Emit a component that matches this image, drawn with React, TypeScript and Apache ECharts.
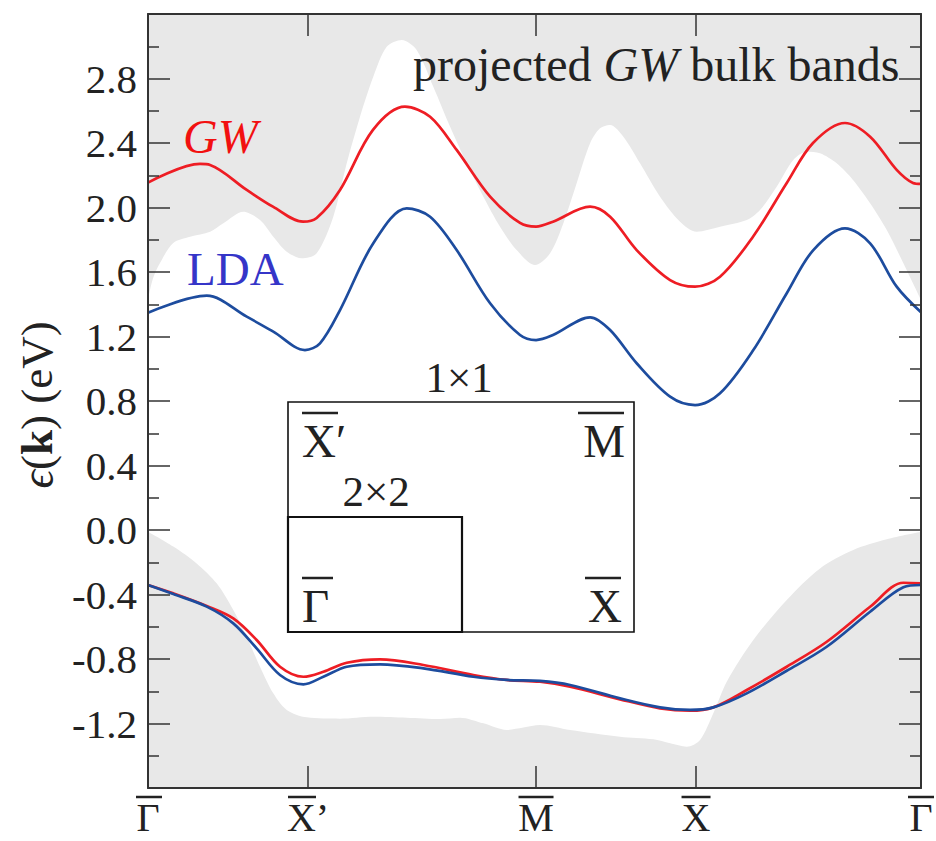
import React, { useEffect, useRef } from "react";
import * as echarts from "echarts";

// ---- data ----
// k-path positions of the high-symmetry points (path length units)
const symPoints = [0, 1.0, 2.425, 3.425, 4.831];
const symLabels = ["Γ", "X’", "M", "X", "Γ"];

const yMin = -1.6;
const yMax = 3.2;
const yStep = 0.4;

const gwUpper: [number, number][] = [
  [0.0, 2.154], [0.325, 2.27], [0.388, 2.264], [0.617, 2.109], [0.781, 2.005],
  [0.969, 1.912], [1.054, 1.935], [1.2, 2.109], [1.406, 2.481], [1.606, 2.625],
  [1.763, 2.563], [1.929, 2.357], [2.138, 2.067], [2.325, 1.904], [2.425, 1.881],
  [2.531, 1.912], [2.763, 2.005], [2.888, 1.943], [3.054, 1.736], [3.263, 1.55],
  [3.419, 1.509], [3.575, 1.571], [3.781, 1.819], [3.992, 2.152], [4.156, 2.4],
  [4.356, 2.524], [4.513, 2.439], [4.679, 2.233], [4.781, 2.152], [4.831, 2.146],
];

const ldaUpper: [number, number][] = [
  [0.0, 1.348], [0.367, 1.453], [0.617, 1.323], [0.783, 1.23], [0.981, 1.116],
  [1.075, 1.158], [1.2, 1.364], [1.408, 1.778], [1.617, 1.995], [1.763, 1.943],
  [1.929, 1.736], [2.138, 1.406], [2.325, 1.209], [2.425, 1.178], [2.531, 1.209],
  [2.763, 1.319], [2.888, 1.24], [3.054, 1.034], [3.263, 0.827], [3.419, 0.775],
  [3.575, 0.848], [3.783, 1.116], [3.992, 1.468], [4.158, 1.736], [4.356, 1.871],
  [4.513, 1.778], [4.679, 1.509], [4.831, 1.35],
];

const gwLower: [number, number][] = [
  [0.0, -0.341], [0.158, -0.393], [0.367, -0.471], [0.533, -0.548], [0.679, -0.682],
  [0.825, -0.848], [0.971, -0.91], [1.096, -0.879], [1.242, -0.823], [1.45, -0.802],
  [1.721, -0.837], [2.033, -0.899], [2.242, -0.93], [2.45, -0.941], [2.638, -0.972],
  [2.95, -1.05], [3.2, -1.106], [3.388, -1.121], [3.533, -1.1], [3.742, -0.992],
  [3.992, -0.848], [4.242, -0.693], [4.513, -0.476], [4.721, -0.327], [4.831, -0.331],
];

const ldaLower: [number, number][] = [
  [0.0, -0.341], [0.158, -0.397], [0.367, -0.475], [0.533, -0.579], [0.679, -0.734],
  [0.825, -0.899], [0.971, -0.957], [1.096, -0.91], [1.242, -0.848], [1.45, -0.833],
  [1.721, -0.858], [2.033, -0.91], [2.242, -0.93], [2.45, -0.936], [2.638, -0.961],
  [2.95, -1.044], [3.2, -1.1], [3.388, -1.116], [3.533, -1.1], [3.742, -1.013],
  [3.992, -0.873], [4.242, -0.724], [4.513, -0.507], [4.721, -0.355], [4.831, -0.341],
];

// lower edge of the projected bulk conduction bands (grey above it)
const bulkCondEdge: [number, number][] = [
  [0.0, 1.43], [0.031, 1.56], [0.075, 1.656], [0.158, 1.78], [0.263, 1.819],
  [0.388, 1.85], [0.471, 1.902], [0.596, 1.974], [0.7, 1.922], [0.783, 1.819],
  [0.867, 1.726], [0.961, 1.685], [1.054, 1.716], [1.158, 1.943], [1.242, 2.274],
  [1.325, 2.563], [1.408, 2.811], [1.492, 2.997], [1.586, 3.039], [1.679, 2.977],
  [1.783, 2.749], [1.888, 2.501], [1.992, 2.274], [2.096, 2.067], [2.2, 1.881],
  [2.304, 1.736], [2.419, 1.643], [2.513, 1.716], [2.596, 1.902], [2.679, 2.15],
  [2.763, 2.398], [2.825, 2.491], [2.888, 2.512], [2.971, 2.439], [3.075, 2.274],
  [3.2, 2.067], [3.325, 1.912], [3.429, 1.85], [3.575, 1.881], [3.742, 1.922],
  [3.825, 1.984], [3.929, 2.129], [4.033, 2.295], [4.117, 2.346], [4.2, 2.336],
  [4.304, 2.274], [4.406, 2.171], [4.513, 2.026], [4.617, 1.86], [4.721, 1.654],
  [4.831, 1.426],
];

// upper edge of the projected bulk valence bands (grey below it)
const bulkValEdge: [number, number][] = [
  [0.0, -0.011], [0.158, -0.103], [0.304, -0.207], [0.429, -0.331], [0.533, -0.496],
  [0.617, -0.662], [0.7, -0.848], [0.783, -1.013], [0.867, -1.116], [0.992, -1.162],
  [1.2, -1.17], [1.408, -1.158], [1.617, -1.164], [1.825, -1.172], [1.95, -1.164],
  [2.096, -1.199], [2.242, -1.24], [2.346, -1.225], [2.45, -1.209], [2.638, -1.24],
  [2.95, -1.282], [3.158, -1.298], [3.263, -1.323], [3.367, -1.344], [3.45, -1.302],
  [3.533, -1.137], [3.617, -0.941], [3.783, -0.682], [3.992, -0.434], [4.2, -0.238],
  [4.408, -0.124], [4.617, -0.058], [4.831, -0.011],
];

// ---- styling ----
const SERIF = "Liberation Serif, DejaVu Serif, serif";
const INK = "#222";
const FRAME = "#333";
const GREY = "#e8e8e8";
const RED = "#ee1d24";
const RED_LABEL = "#f21010";
const BLUE = "#1d4c9e";
const BLUE_LABEL = "#3535c8";

// overbar layout for the bottom labels: offset from tick and width
const barLayout = [
  { dx: 1, w: 26 },
  { dx: -6, w: 28 },
  { dx: 0, w: 35 },
  { dx: 0, w: 29 },
  { dx: 0, w: 26 },
];

function labelFor(v: number): string {
  for (let i = 0; i < symPoints.length; i++) {
    if (Math.abs(symPoints[i] - v) < 1e-6) return symLabels[i];
  }
  return "";
}

function yFmt(v: number): string {
  const r = Math.round(v * 10) / 10;
  if (Math.abs(r) < 1e-9) return "0.0";
  return r.toFixed(1);
}

function bar(x1: number, x2: number, y: number) {
  return {
    type: "line",
    silent: true,
    z: 100,
    shape: { x1, y1: y, x2, y2: y },
    style: { stroke: INK, lineWidth: 2.5 },
  };
}

function txt(text: string, x: number, y: number, fontSize: number, align: string, extra: any = {}) {
  return {
    type: "text",
    silent: true,
    z: 100,
    x,
    y,
    style: {
      text,
      fontSize,
      fontFamily: SERIF,
      fill: INK,
      align,
      verticalAlign: "middle",
      ...extra,
    },
  };
}

function bandLine(name: string, data: [number, number][], color: string, z: number) {
  return {
    name,
    type: "line",
    data,
    smooth: 0.33,
    symbol: "none",
    z,
    lineStyle: { color, width: 2.7 },
  };
}

function bulkArea(name: string, data: [number, number][], origin: string) {
  return {
    name,
    type: "line",
    data,
    smooth: 0.3,
    symbol: "none",
    silent: true,
    z: 1,
    lineStyle: { width: 0, opacity: 0 },
    areaStyle: { color: GREY, opacity: 1, origin },
  };
}

export default function App() {
  const ref = useRef<HTMLDivElement>(null);

  useEffect(() => {
    document.body.style.margin = "0";
    if (!ref.current) return;
    const chart = echarts.init(ref.current, null, { renderer: "svg" });

    const xCommon = {
      type: "value",
      min: 0,
      max: symPoints[symPoints.length - 1],
      z: 10,
      splitLine: { show: false },
      axisLine: { show: true, onZero: false, lineStyle: { color: FRAME, width: 2 } },
      axisTick: {
        show: true,
        inside: true,
        length: 22,
        customValues: symPoints,
        lineStyle: { color: FRAME, width: 1.5 },
      },
    };

    const yCommon = {
      type: "value",
      min: yMin,
      max: yMax,
      interval: yStep,
      z: 10,
      splitLine: { show: false },
      axisLine: { show: true, onZero: false, lineStyle: { color: FRAME, width: 2 } },
      axisTick: { show: true, inside: true, length: 22, lineStyle: { color: FRAME, width: 1.5 } },
      minorTick: { show: true, splitNumber: 2, length: 11, lineStyle: { color: FRAME, width: 1.5 } },
      minorSplitLine: { show: false },
    };

    const option: any = {
      animation: false,
      backgroundColor: "#ffffff",
      grid: { left: 148, right: 15, top: 14, bottom: 53, containLabel: false },
      xAxis: [
        {
          ...xCommon,
          position: "bottom",
          axisLabel: {
            show: true,
            customValues: symPoints,
            formatter: (v: number) => labelFor(v),
            fontSize: 40,
            lineHeight: 34,
            fontFamily: SERIF,
            color: INK,
            margin: 12,
            hideOverlap: false,
          },
        },
        { ...xCommon, position: "top", axisLabel: { show: false } },
      ],
      yAxis: [
        {
          ...yCommon,
          position: "left",
          axisLabel: {
            show: true,
            formatter: (v: number) => yFmt(v),
            showMinLabel: false,
            showMaxLabel: false,
            fontSize: 41,
            fontFamily: SERIF,
            color: INK,
            margin: 11,
          },
        },
        { ...yCommon, position: "right", axisLabel: { show: false } },
      ],
      series: [
        bulkArea("bulk conduction", bulkCondEdge, "end"),
        bulkArea("bulk valence", bulkValEdge, "start"),
        bandLine("GW upper", gwUpper, RED, 3),
        bandLine("GW lower", gwLower, RED, 3),
        bandLine("LDA upper", ldaUpper, BLUE, 4),
        bandLine("LDA lower", ldaLower, BLUE, 4),
      ],
    };

    chart.setOption(option);

    const graphics: any[] = [];

    // y-axis title
    graphics.push({
      type: "text",
      silent: true,
      z: 100,
      x: 37,
      y: 405,
      rotation: Math.PI / 2,
      style: {
        text: "{e|ϵ}{n|(}{b|k}{n|) (eV)}",
        align: "center",
        verticalAlign: "middle",
        fill: INK,
        fontSize: 45,
        fontFamily: SERIF,
        rich: {
          e: { fontSize: 46, fontFamily: SERIF, fontStyle: "italic", fill: INK },
          n: { fontSize: 45, fontFamily: SERIF, fill: INK },
          b: { fontSize: 45, fontFamily: SERIF, fontWeight: "bold", fill: INK },
        },
      },
    });

    // in-plot annotations
    graphics.push({
      type: "text",
      silent: true,
      z: 100,
      x: 413,
      y: 64,
      style: {
        text: "{n|projected }{i|GW}{n| bulk bands}",
        align: "left",
        verticalAlign: "middle",
        fill: INK,
        fontSize: 48,
        fontFamily: SERIF,
        rich: {
          n: { fontSize: 48, fontFamily: SERIF, fill: INK },
          i: { fontSize: 48, fontFamily: SERIF, fontStyle: "italic", fill: INK },
        },
      },
    });
    graphics.push(txt("GW", 183, 136, 48, "left", { fill: RED_LABEL, fontStyle: "italic" }));
    graphics.push(txt("LDA", 187, 269, 47, "left", { fill: BLUE_LABEL }));

    // inset: surface Brillouin zones
    graphics.push({
      type: "rect",
      silent: true,
      z: 90,
      shape: { x: 288, y: 402, width: 346, height: 230 },
      style: { fill: "none", stroke: "#111", lineWidth: 1.6 },
    });
    graphics.push({
      type: "rect",
      silent: true,
      z: 91,
      shape: { x: 288, y: 517, width: 174, height: 115 },
      style: { fill: "none", stroke: "#111", lineWidth: 2.2 },
    });
    graphics.push(txt("1×1", 459, 377, 43, "center"));
    graphics.push(txt("2×2", 376, 491, 43, "center"));
    graphics.push(txt("X′", 302, 441, 47, "left"));
    graphics.push(bar(302, 338, 413));
    graphics.push(txt("M", 625, 441, 47, "right"));
    graphics.push(bar(578, 624, 413));
    graphics.push(txt("Γ", 302, 606, 47, "left"));
    graphics.push(bar(302, 333, 578));
    graphics.push(txt("X", 622, 606, 47, "right"));
    graphics.push(bar(585, 621, 578));

    // overbars on the bottom axis labels
    symPoints.forEach((v, i) => {
      const px = chart.convertToPixel({ xAxisIndex: 0 }, v) as number;
      const { dx, w } = barLayout[i];
      graphics.push(bar(px + dx - w / 2, px + dx + w / 2, 797));
    });

    chart.setOption({ graphic: graphics });

    return () => chart.dispose();
  }, []);

  return <div ref={ref} style={{ width: 936, height: 841 }} />;
}
